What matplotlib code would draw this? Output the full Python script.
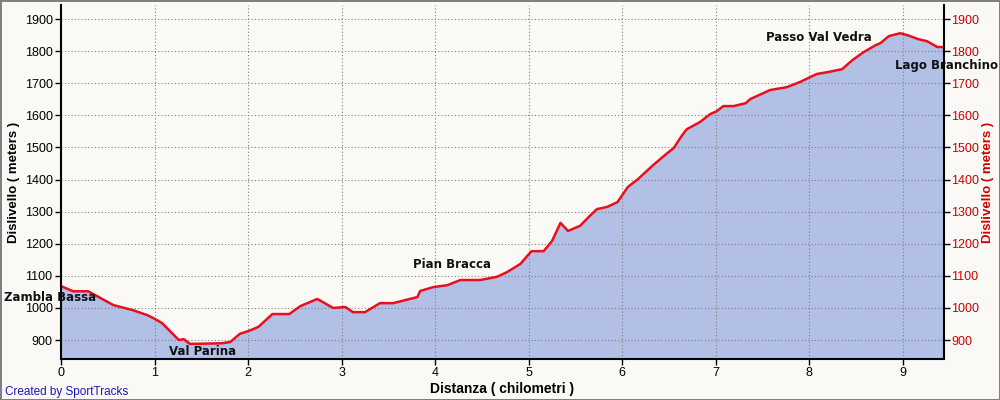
import matplotlib
matplotlib.use("Agg")
import matplotlib.pyplot as plt

# elevation profile
dist_km = [0.00, 0.13, 0.29, 0.56, 0.77, 0.92, 0.99, 1.08, 1.26, 1.31, 1.38, 1.72,
           1.81, 1.91, 2.02, 2.11, 2.26, 2.44, 2.56, 2.74, 2.91, 3.04, 3.12, 3.25,
           3.41, 3.55, 3.81, 3.84, 3.98, 4.13, 4.27, 4.48, 4.66, 4.77, 4.91, 5.03,
           5.16, 5.25, 5.34, 5.42, 5.55, 5.64, 5.73, 5.84, 5.95, 6.06, 6.17, 6.33,
           6.48, 6.55, 6.64, 6.69, 6.83, 6.94, 7.01, 7.08, 7.19, 7.32, 7.37, 7.58,
           7.76, 7.90, 8.08, 8.20, 8.35, 8.46, 8.58, 8.71, 8.76, 8.85, 8.97, 9.05,
           9.16, 9.26, 9.37, 9.43]
elev_m = [1068, 1052, 1052, 1009, 993, 978, 968, 953, 900, 903, 888, 890,
          894, 919, 930, 941, 981, 981, 1006, 1028, 1000, 1003, 987, 987,
          1015, 1015, 1034, 1053, 1065, 1071, 1087, 1087, 1097, 1112, 1137, 1177,
          1177, 1209, 1265, 1240, 1256, 1283, 1308, 1315, 1330, 1377, 1402, 1445,
          1482, 1498, 1538, 1557, 1579, 1604, 1613, 1629, 1629, 1638, 1651, 1679,
          1688, 1704, 1729, 1735, 1744, 1772, 1797, 1819, 1825, 1847, 1856, 1850,
          1838, 1831, 1813, 1813]

# waypoint labels
place_names = ["Zambla Bassa", "Val Parina", "Pian Bracca", "Passo Val Vedra", "Lago Branchino"]
place_km = [-0.12, 1.51, 4.18, 8.10, 9.47]
place_m = [1034, 863, 1134, 1844, 1757]

x_ticks = list(range(0, 10))
y_ticks = list(range(900, 2000, 100))

bg = "#faf9f5"
fig = plt.figure(figsize=(10, 4), dpi=100, facecolor=bg, edgecolor="#808080", linewidth=2)
ax = fig.add_axes([0.061, 0.1025, 0.883, 0.885])
ax.set_facecolor(bg)

ax.fill_between(dist_km, elev_m, 800, color="#b2c0e6", zorder=1)
ax.plot(dist_km, elev_m, color="#e8101c", linewidth=1.8, zorder=3)

ax.set_xlim(0, 9.44)
ax.set_ylim(841, 1944)
ax.set_xticks(x_ticks)
ax.set_yticks(y_ticks)
ax.grid(True, color="#808080", linestyle=(0, (1, 2)), linewidth=0.8, zorder=2)
ax.set_axisbelow(False)

ax.spines["top"].set_visible(False)
for s in ["left", "bottom", "right"]:
    ax.spines[s].set_linewidth(1.5)
    ax.spines[s].set_zorder(4)

ax.tick_params(axis="both", direction="out", length=4, width=1, labelsize=9, pad=2)
for lab in ax.get_xticklabels() + ax.get_yticklabels():
    lab.set_fontfamily("Liberation Sans")

ax2 = ax.twinx()
ax2.set_ylim(ax.get_ylim())
ax2.set_yticks(y_ticks)
ax2.tick_params(axis="y", direction="out", length=4, width=1, labelsize=9, pad=1,
                labelcolor="#d00000")
for lab in ax2.get_yticklabels():
    lab.set_fontfamily("Liberation Sans")
for s in ax2.spines.values():
    s.set_visible(False)

ax.set_ylabel("Dislivello ( meters )", fontsize=9.5, fontweight="bold",
              family="Liberation Sans", labelpad=3)
ax2.set_ylabel("Dislivello ( meters )", fontsize=9.5, fontweight="bold",
               family="Liberation Sans", color="#d00000", labelpad=2)
ax.set_xlabel("Distanza ( chilometri )", fontsize=10, fontweight="bold",
              family="Liberation Sans", labelpad=2)

for name, km, m in zip(place_names, place_km, place_m):
    ax.text(km, m, name, ha="center", va="center", fontsize=8.5, fontweight="bold",
            family="DejaVu Sans", color="#111111", zorder=5, clip_on=False)

fig.text(0.005, 0.02, "Created by SportTracks", color="#1a1ab4", fontsize=8.5,
         family="Liberation Sans", ha="left", va="center")

fig.savefig("out.png", dpi=100, facecolor=bg, edgecolor="#808080")
